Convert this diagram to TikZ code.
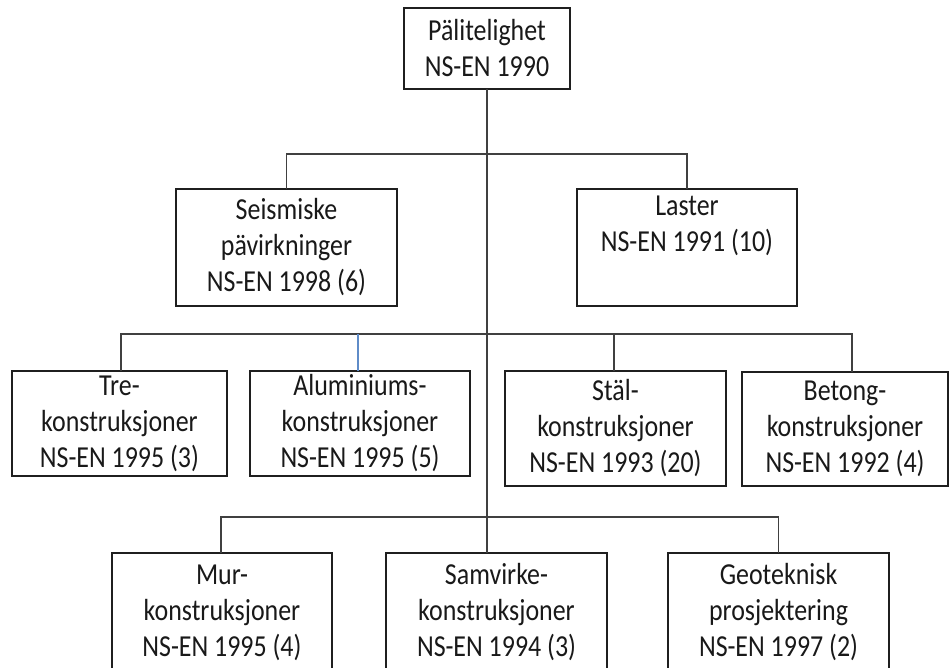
\documentclass[tikz,border=0pt]{standalone}
\usepackage{fontspec}
\setmainfont{Carlito}[FakeStretch=0.85]
\definecolor{lineblue}{RGB}{95,140,200}
\begin{document}
\begin{tikzpicture}[x=1pt,y=-1pt,
  box/.style={draw=black!88,line width=1.8pt,rectangle,inner sep=0pt,outer sep=0pt,
    align=center,font=\fontsize{30.5}{36}\selectfont,text=black!90},
  conn/.style={draw=black!75,line width=1.7pt},
  bconn/.style={draw=lineblue,line width=1.7pt}]
\useasboundingbox (0,0) rectangle (950,668);
\clip (0,0) rectangle (950,668);
\fill[white] (0,0) rectangle (950,668);
% boxes
\node[box,minimum width=166pt,minimum height=81pt] (top) at (487,48.5) {Pälitelighet\\NS-EN 1990};
\node[box,minimum width=221pt,minimum height=117pt] (seis) at (286.5,247.5) {Seismiske\\pävirkninger\\NS-EN 1998 (6)};
\node[box,minimum width=220pt,minimum height=117pt] (last) at (687,247.5) {Laster\\NS-EN 1991 (10)\\\strut};
\node[box,minimum width=215pt,minimum height=105pt] (tre) at (119.5,423.5) {Tre-\\konstruksjoner\\NS-EN 1995 (3)};
\node[box,minimum width=220pt,minimum height=105pt] (alu) at (360,423.5) {Aluminiums-\\konstruksjoner\\NS-EN 1995 (5)};
\node[box,minimum width=221pt,minimum height=115pt] (stal) at (615.5,428.5) {Stäl-\\konstruksjoner\\NS-EN 1993 (20)};
\node[box,minimum width=206pt,minimum height=114pt] (bet) at (845,429) {Betong-\\konstruksjoner\\NS-EN 1992 (4)};
\node[box,minimum width=220pt,minimum height=119pt] (mur) at (222,612.5) {Mur-\\konstruksjoner\\NS-EN 1995 (4)};
\node[box,minimum width=221pt,minimum height=119pt] (sam) at (496.5,612.5) {Samvirke-\\konstruksjoner\\NS-EN 1994 (3)};
\node[box,minimum width=221pt,minimum height=119pt] (geo) at (778.5,612.5) {Geoteknisk\\prosjektering\\NS-EN 1997 (2)};
% bus coordinates
\coordinate (b1) at (487,154);
\coordinate (b2) at (487,334);
\coordinate (b3) at (487,517);
% connectors
\draw[conn] (top.south) -- (top.south |- sam.north);
\draw[conn] (seis.north) |- (b1) -| (last.north);
\draw[conn] ([xshift=1.5pt]tre.north) |- (b2) -| ([xshift=7pt]bet.north);
\draw[conn] ([xshift=-1.5pt]stal.north) -- ([xshift=-1.5pt]stal.north |- b2);
\draw[bconn] ([xshift=-2pt]alu.north) -- ([xshift=-2pt]alu.north |- b2);
\draw[conn] ([xshift=-1pt]mur.north) |- (b3) -| (geo.north);
\end{tikzpicture}
\end{document}
